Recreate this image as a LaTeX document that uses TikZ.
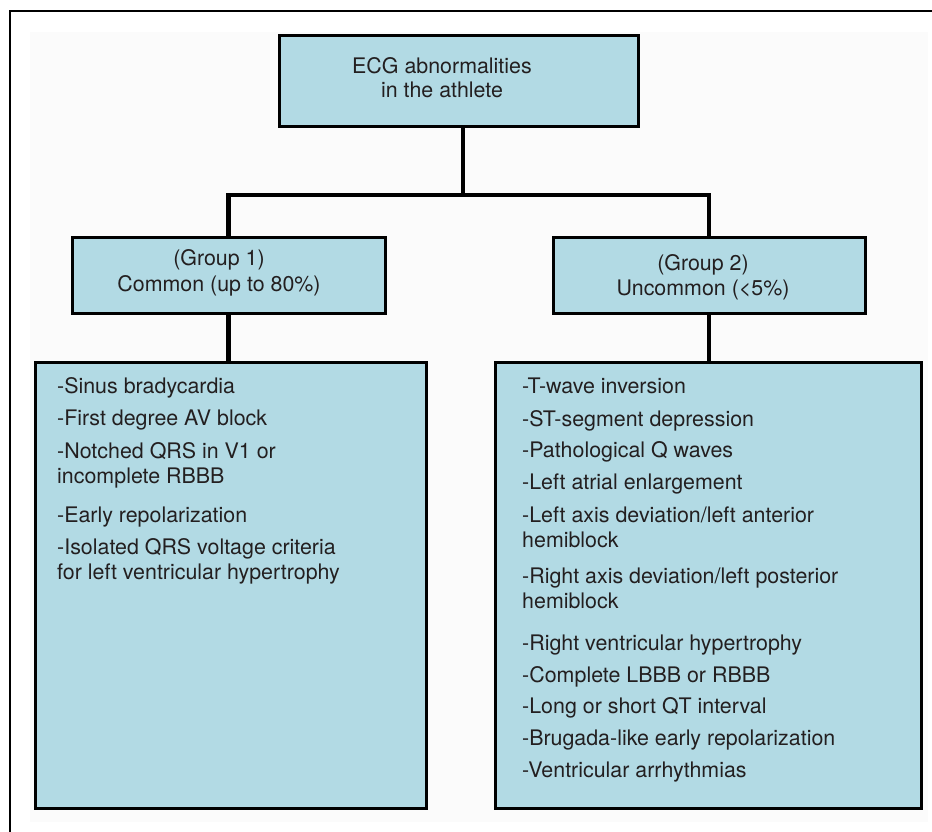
\documentclass[tikz,border=0pt]{standalone}
\usepackage{fontspec}
\setmainfont{TeX Gyre Heros}
\definecolor{boxfill}{RGB}{178,218,228}
\definecolor{txt}{RGB}{35,31,32}
\definecolor{bgpanel}{RGB}{251,251,251}
\begin{document}
\begin{tikzpicture}[x=1pt,y=-1pt,
  box/.style={draw=black,line width=3pt,fill=boxfill,inner sep=0pt,rectangle},
  conn/.style={draw=black,line width=4.5pt},
  lbl/.style={text=txt,font=\fontsize{21.4}{25}\selectfont,inner sep=0pt,anchor=base},
  item/.style={text=txt,font=\fontsize{21.4}{25}\selectfont,inner sep=0pt,anchor=base west}]
\useasboundingbox (0,0) rectangle (932,832);
\fill[bgpanel] (30,32) rectangle (928,822);
\draw[line width=2pt] (932,11) -- (10,11) -- (10,832);
% boxes
\node[box,minimum width=359pt,minimum height=91pt] (top) at (458.5,81.5) {};
\node[box,minimum width=313pt,minimum height=76pt] (g1) at (228.5,275) {};
\node[box,minimum width=312pt,minimum height=76pt] (g2) at (709,275) {};
\node[box,minimum width=391pt,minimum height=446pt] (L) at (230.5,585) {};
\node[box,minimum width=426pt,minimum height=446pt] (R) at (708,585) {};
% connectors
\coordinate (bar) at (463,195);
\draw[conn] (top.south -| bar) -- (bar);
\draw[conn] (g1.north) |- (bar) -| (g2.north);
\draw[conn] (g1.south) -- (g1.south |- L.north);
\draw[conn] (g2.south) -- (g2.south |- R.north);
% headings
\node[lbl] (t1) at (442,74) {ECG abnormalities};
\node[lbl] (t2) at (442,98) {in the athlete};
\node[lbl] (a1) at (219,265) {(Group 1)};
\node[lbl] (a2) at (219,291) {Common (up to 80\%)};
\node[lbl] (b1) at (703,270) {(Group 2)};
\node[lbl] (b2) at (703,295) {Uncommon (<5\%)};
% left list
\foreach \y/\t [count=\i] in {393/{-Sinus bradycardia},425/{-First degree AV block},458/{-Notched QRS in V1 or},483/{incomplete RBBB},522/{-Early repolarization},554/{-Isolated QRS voltage criteria},579/{for left ventricular hypertrophy}}
  \node[item] (L\i) at (57,\y) {\t};
% right list
\foreach \y/\t [count=\i] in {393/{-T-wave inversion},426/{-ST-segment depression},457/{-Pathological Q waves},489/{-Left atrial enlargement},522/{-Left axis deviation/left anterior},547/{hemiblock},583/{-Right axis deviation/left posterior},608/{hemiblock},650/{-Right ventricular hypertrophy},682/{-Complete LBBB or RBBB},713/{-Long or short QT interval},745/{-Brugada-like early repolarization},777/{-Ventricular arrhythmias}}
  \node[item] (R\i) at (522,\y) {\t};
\end{tikzpicture}
\end{document}
